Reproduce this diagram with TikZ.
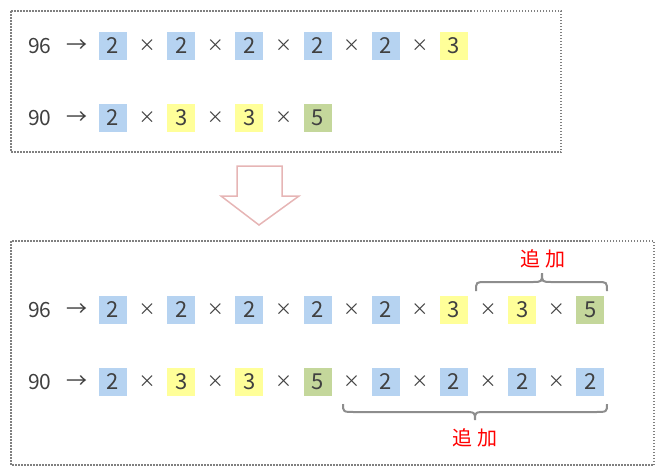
\documentclass[tikz,border=0pt]{standalone}
\usepackage{fontspec}
\setmainfont{Noto Sans CJK JP}
\definecolor{cB}{HTML}{B6D3F1}
\definecolor{cY}{HTML}{FFFF99}
\definecolor{cG}{HTML}{C4D79B}
\definecolor{txt}{HTML}{404040}
\definecolor{frame}{HTML}{808080}
\definecolor{pinkarrow}{HTML}{E6B5B5}
\tikzset{
  sq/.style={minimum width=28pt,minimum height=28pt,inner sep=0pt,text=txt,font=\fontsize{22}{22}\selectfont},
  op/.style={inner sep=0pt,text=txt,font=\fontsize{21}{21}\selectfont},
  tm/.style={inner sep=0pt,text=txt,font=\fontsize{17}{17}\selectfont},
  dotframe/.style={draw=frame,line width=1.5pt,dash pattern=on 1.5pt off 1.5pt},
  bracestyle/.style={draw=frame!90,line width=2pt},
  addlabel/.style={text=red,font=\fontsize{20}{20}\selectfont,inner sep=0pt}
}
\newcommand{\factrow}[3]{% prefix, y, list
  \foreach \c/\d [count=\i from 0] in {#3} {
    \node[sq,fill=c\c] (#1s\i) at ({113+68.2*\i},#2) {\d};
    \ifnum\i>0 \node[tm] (#1x\i) at ({113+68.2*\i-34.1},#2) {×};\fi
  }
}
\begin{document}
\begin{tikzpicture}[x=1pt,y=-1pt]
\useasboundingbox (0,0) rectangle (665,475);
% frames
\draw[dotframe] (11,11) rectangle (561,152);
\draw[dotframe] (11,241) rectangle (654,465);
% top box
\node[op] (n96a) at (40,46) {96};
\node[op] (arA) at (77,46) {→};
\factrow{ta}{46}{B/2,B/2,B/2,B/2,B/2,Y/3}
\node[op] (n90a) at (40,118) {90};
\node[op] (arB) at (77,118) {→};
\factrow{tb}{118}{B/2,Y/3,Y/3,G/5}
% big arrow
\draw[draw=pinkarrow,line width=1.5pt,line join=miter]
  (237,166) -- (282,166) -- (282,196) -- (299,196) -- (259,225) -- (221,196) -- (237,196) -- cycle;
% bottom box
\node[op] (n96b) at (40,310) {96};
\node[op] (arC) at (77,310) {→};
\factrow{ba}{310}{B/2,B/2,B/2,B/2,B/2,Y/3,Y/3,G/5}
\node[op] (n90b) at (40,382) {90};
\node[op] (arD) at (77,382) {→};
\factrow{bb}{382}{B/2,Y/3,Y/3,G/5,B/2,B/2,B/2,B/2}
% braces
\draw[bracestyle] (476,291) .. controls (476,282) .. (486,282) -- (532,282)
  .. controls (542,282) .. (542,273) .. controls (542,282) .. (552,282) -- (597,282)
  .. controls (607,282) .. (607,291);
\node[addlabel] (lab1) at (543,259) {追\hspace{5pt}加};
\draw[bracestyle] (343,404) .. controls (343,412) .. (355,412) -- (463,412)
  .. controls (475,412) .. (475,420) .. controls (475,412) .. (487,412) -- (595,412)
  .. controls (607,412) .. (607,404);
\node[addlabel] (lab2) at (475,438) {追\hspace{5pt}加};
\end{tikzpicture}
\end{document}
